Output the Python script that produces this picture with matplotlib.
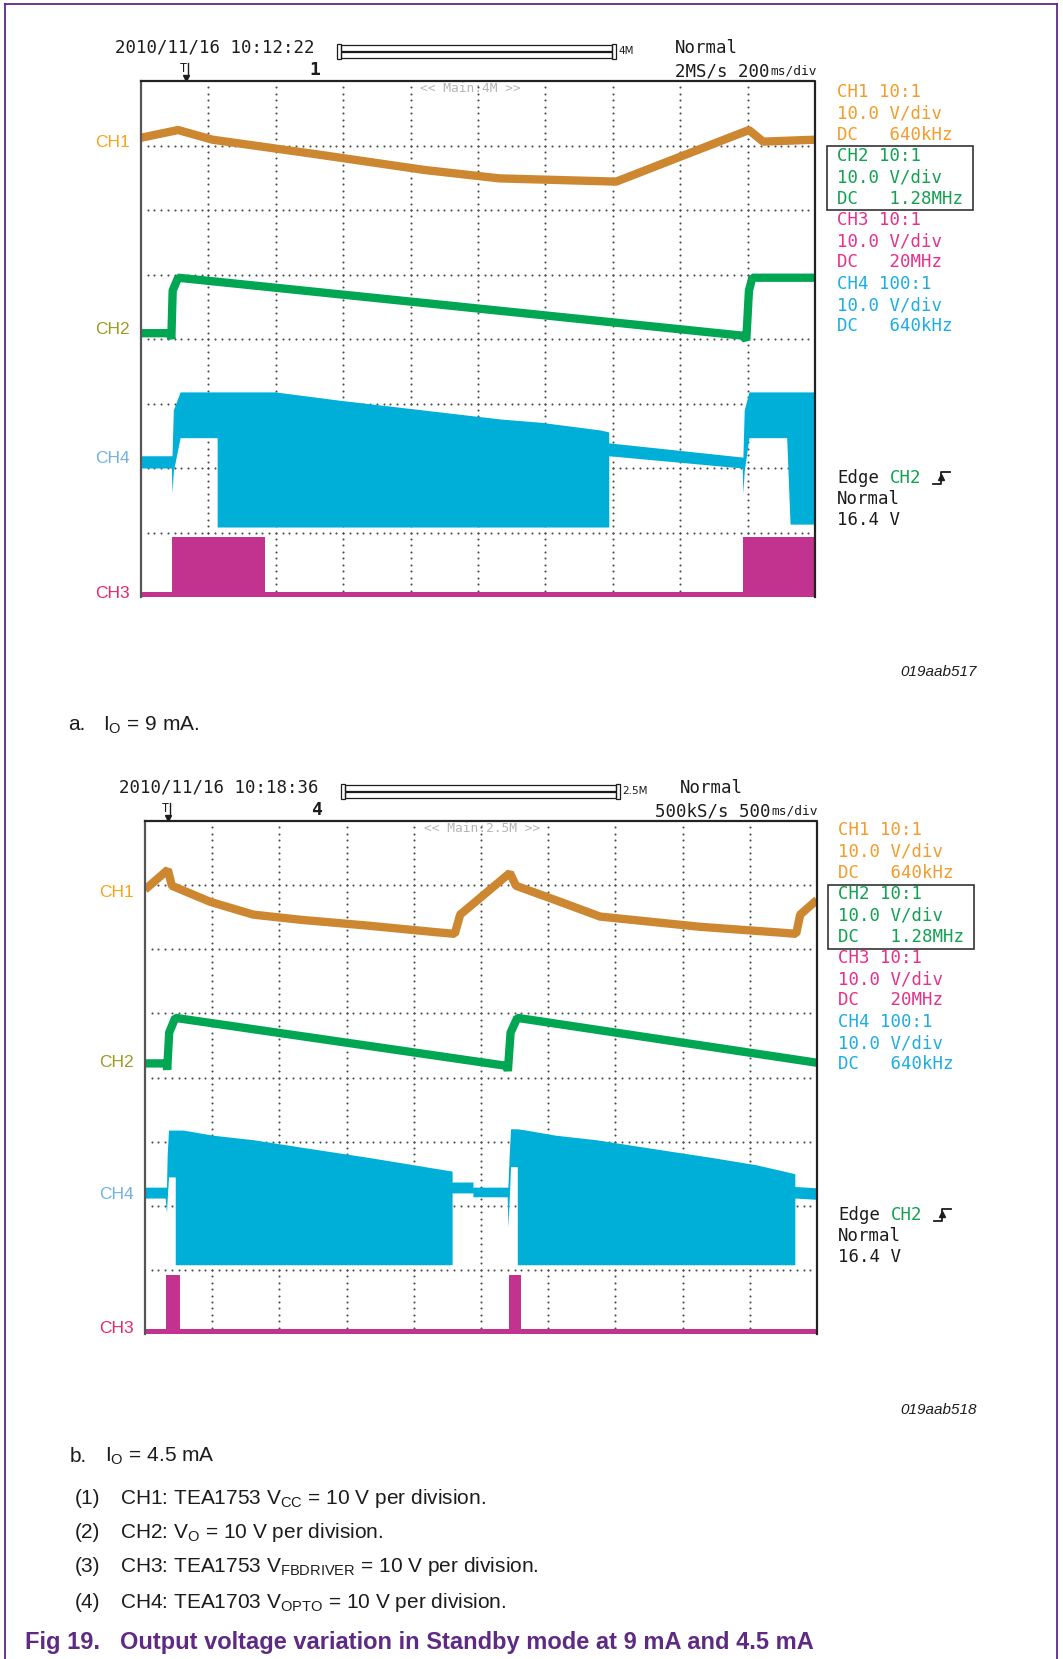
import matplotlib
matplotlib.use("Agg")
import matplotlib.pyplot as plt
import numpy as np
from matplotlib.patches import Rectangle

plt.rcParams['mathtext.fontset'] = 'custom'
plt.rcParams['mathtext.rm'] = 'Liberation Sans'
plt.rcParams['mathtext.it'] = 'Liberation Sans:italic'
plt.rcParams['mathtext.bf'] = 'Liberation Sans:bold'

W, H, DPI = 1063, 1659, 100

# ---------------- data (x in divisions 0..10, y in divisions 0..8) ----------------
# Panel a: IO = 9 mA
ch1a_x = [0, 0.55, 1.06, 2.63, 4.21, 5.32, 7.05, 9.02, 9.23, 10]
ch1a_y = [7.12, 7.24, 7.09, 6.86, 6.62, 6.49, 6.44, 7.24, 7.06, 7.09]

ch2a_x = [0, 0.43, 0.45, 0.47, 0.55, 8.94, 8.98, 9.02, 9.07, 10]
ch2a_y = [4.09, 4.09, 4.00, 4.75, 4.95, 4.05, 3.98, 4.75, 4.95, 4.95]

ch4a_x   = [0, 0.45, 0.46, 0.48, 0.58, 1.13, 1.13, 1.99, 2.95, 5.33, 5.92, 6.81, 6.94, 6.94, 8.92, 8.93, 8.95, 9.02, 9.58, 9.63, 10]
ch4a_bot = [2.00, 2.00, 1.61, 1.95, 2.47, 2.47, 1.085, 1.085, 1.085, 1.085, 1.085, 1.085, 1.085, 2.19, 2.00, 1.61, 1.95, 2.47, 2.47, 1.13, 1.13]
ch4a_top = [2.19, 2.19, 2.19, 2.90, 3.18, 3.18, 3.18, 3.18, 3.05, 2.76, 2.71, 2.59, 2.56, 2.39, 2.17, 2.17, 2.90, 3.18, 3.18, 3.18, 3.18]

ch3a_start = [0.46, 8.93]
ch3a_end = [1.84, 10.0]
ch3a_high = 0.93

# Panel b: IO = 4.5 mA
ch1b_x = [0, 0.34, 0.40, 0.97, 1.61, 2.31, 3.30, 4.29, 4.61, 4.69, 5.43, 5.52, 6.10, 6.77, 8.26, 9.45, 9.69, 9.75, 10]
ch1b_y = [6.93, 7.24, 6.99, 6.74, 6.54, 6.46, 6.37, 6.27, 6.24, 6.54, 7.19, 6.99, 6.77, 6.51, 6.35, 6.26, 6.24, 6.54, 6.77]

ch2b_x = [0, 0.32, 0.33, 0.36, 0.45, 5.39, 5.40, 5.44, 5.54, 10]
ch2b_y = [4.22, 4.22, 4.12, 4.70, 4.93, 4.18, 4.10, 4.70, 4.93, 4.23]

ch4b_x   = [0, 0.30, 0.32, 0.33, 0.35, 0.45, 0.45, 0.57, 1.01, 1.61, 2.41, 3.35, 3.99, 4.57, 4.57, 4.88, 4.88, 5.39, 5.40, 5.42, 5.44, 5.54, 5.54, 5.67, 6.11, 6.71, 7.51, 8.45, 9.09, 9.67, 9.67, 10]
ch4b_bot = [2.12, 2.12, 1.89, 2.10, 2.45, 2.45, 1.08, 1.08, 1.08, 1.08, 1.08, 1.08, 1.08, 1.08, 2.20, 2.20, 2.14, 2.14, 1.67, 2.10, 2.61, 2.61, 1.08, 1.08, 1.08, 1.08, 1.08, 1.08, 1.08, 1.08, 2.12, 2.10]
ch4b_top = [2.29, 2.29, 2.29, 2.80, 3.18, 3.18, 3.18, 3.18, 3.10, 3.03, 2.90, 2.75, 2.64, 2.54, 2.37, 2.37, 2.29, 2.29, 2.29, 2.80, 3.20, 3.20, 3.20, 3.18, 3.10, 3.03, 2.90, 2.75, 2.64, 2.50, 2.30, 2.28]

ch3b_start = [0.31, 5.42]
ch3b_end = [0.52, 5.60]
ch3b_high = 0.92

# channel label positions (divisions)
labels_a = [("CH1", 7.04), ("CH2", 4.14), ("CH4", 2.14), ("CH3", 0.05)]
labels_b = [("CH1", 6.88), ("CH2", 4.23), ("CH4", 2.18), ("CH3", 0.08)]

info_lines = ["CH1 10:1", "10.0 V/div", "DC   640kHz",
              "CH2 10:1", "10.0 V/div", "DC   1.28MHz",
              "CH3 10:1", "10.0 V/div", "DC   20MHz",
              "CH4 100:1", "10.0 V/div", "DC   640kHz"]

# ---------------- styling ----------------
C1, C2, C3, C4 = '#CD8731', '#00A651', '#C2338F', '#00AFD8'
LBL = {"CH1": '#F7A41D', "CH2": '#A09A1E', "CH3": '#E8266B', "CH4": '#72B2E2'}
INFO_C = ['#F39C2B'] * 3 + ['#12A150'] * 3 + ['#E5318A'] * 3 + ['#1DADE4'] * 3
MONO = 'DejaVu Sans Mono'
SANS = 'Liberation Sans'
DARK = '#1c1c1c'
PURPLE = '#5E2A84'

fig = plt.figure(figsize=(W / DPI, H / DPI), dpi=DPI)
fig.patch.set_facecolor('white')
ov = fig.add_axes([0, 0, 1, 1])
ov.set_xlim(0, W)
ov.set_ylim(H, 0)
ov.axis('off')


def txt(x, y, s, size, color=DARK, family=MONO, ha='left', va='center', **kw):
    ov.text(x, y, s, fontsize=size, color=color, family=family, ha=ha, va=va, **kw)


# purple frame
ov.plot([5, 1057], [4, 4], color=PURPLE, lw=1.3)
ov.plot([5, 5], [4, H], color=PURPLE, lw=1.3)
ov.plot([1057, 1057], [4, H], color=PURPLE, lw=1.3)


def header(bx0, by0, date, num, trig_x, num_x, bar_label, rate, main_label, normal_x, rate_x):
    txt(115 + (bx0 - 141), by0 - 33, date, 12.5)
    bl = 337 + (bx0 - 141)
    br = 612 + (bx0 - 141)
    yb = by0 - 37
    ov.add_patch(Rectangle((bl, yb), 4, 15, fill=False, ec=DARK, lw=0.9))
    ov.add_patch(Rectangle((bl + 4, yb + 1), br - bl - 4, 6, fill=False, ec=DARK, lw=0.9))
    ov.add_patch(Rectangle((bl + 4, yb + 8), br - bl - 4, 6, fill=False, ec=DARK, lw=0.9))
    ov.add_patch(Rectangle((br, yb), 4, 15, fill=False, ec=DARK, lw=0.9))
    txt(br + 6, yb + 7.5, bar_label, 7.5, family='DejaVu Sans')
    txt(num_x, by0 - 11, num, 13, weight='bold', ha='center')
    txt(trig_x - 3, by0 - 12, 'T', 8.5, ha='center')
    ov.plot([trig_x + 2, trig_x + 2], [by0 - 18, by0 - 5], color=DARK, lw=1.0)
    ov.plot([trig_x], [by0 - 3], marker='v', ms=5, color=DARK)
    txt(normal_x, by0 - 33, 'Normal', 12.5)
    txt(rate_x, by0 - 10, rate, 12.5)
    txt(rate_x + 95 + (len(rate) - 9) * 10.45, by0 - 10, 'ms/div', 9.3)
    txt(bx0 + 279, by0 + 8, main_label, 9.3, color='#b5b5b5')


def info(x, y_first, box_y0, trig_y):
    for i, (s, c) in enumerate(zip(info_lines, INFO_C)):
        txt(x, y_first + i * 21.3, s, 12.5, color=c)
    ov.add_patch(Rectangle((x - 10, box_y0), 146, 64, fill=False, ec='#333', lw=1.2))
    txt(x, trig_y, 'Edge', 12.5)
    txt(x + 53, trig_y, 'CH2', 12.5, color='#12A150')
    sx = x + 96
    ov.plot([sx, sx + 8, sx + 8, sx + 17], [trig_y + 6, trig_y + 6, trig_y - 6, trig_y - 6], color=DARK, lw=1.3)
    ov.plot([sx + 8], [trig_y - 1], marker='^', ms=4.5, color=DARK)
    txt(x, trig_y + 21, 'Normal', 12.5)
    txt(x, trig_y + 42, '16.4 V', 12.5)


def scope(box, c1x, c1y, c2x, c2y, c4x, c4b, c4t, c3s, c3e, c3h, labels, lbl_x):
    x0, y0, x1, y1 = box
    ax = fig.add_axes([x0 / W, 1 - y1 / H, (x1 - x0) / W, (y1 - y0) / H])
    ax.set_xlim(0, 10)
    ax.set_ylim(0, 8)
    ax.axis('off')
    t = np.arange(0.1, 10.0, 0.1)
    for gy in range(1, 8):
        ax.scatter(t, np.full_like(t, gy), s=2.2, c='#4a4a4a', lw=0, zorder=1)
    tv = np.arange(0.1, 8.0, 0.1)
    for gx in range(1, 10):
        ax.scatter(np.full_like(tv, gx), tv, s=2.2, c='#4a4a4a', lw=0, zorder=1)
    ax.plot([0, 0], [0, 8], color='#555', lw=1.6, zorder=6, clip_on=False)
    ax.plot([0, 10, 10], [8, 8, 0], color='#222', lw=1.6, zorder=6, clip_on=False)
    ax.fill_between(c4x, c4b, c4t, color=C4, lw=0, zorder=3)
    ax.plot(c2x, c2y, color=C2, lw=6, solid_joinstyle='bevel', solid_capstyle='butt', zorder=4)
    ax.plot(c1x, c1y, color=C1, lw=6, solid_joinstyle='bevel', solid_capstyle='butt', zorder=4)
    ax.fill_between([0, 10], [0, 0], [0.08, 0.08], color=C3, lw=0, zorder=5, clip_on=False)
    for s, e in zip(c3s, c3e):
        ax.fill_between([s, e], [0, 0], [c3h, c3h], color=C3, lw=0, zorder=5)
    for name, yd in labels:
        ypx = y1 - yd * (y1 - y0) / 8.0
        txt(lbl_x, ypx, name, 12.5, color=LBL[name], family=SANS, ha='right')


# ---------- panel a ----------
header(141, 81, '2010/11/16 10:12:22', '1', 186, 315, '4M', '2MS/s 200', '<< Main:4M >>', 675, 675)
info(837, 92, 146, 478)
scope((141, 81, 815, 597), ch1a_x, ch1a_y, ch2a_x, ch2a_y, ch4a_x, ch4a_bot, ch4a_top,
      ch3a_start, ch3a_end, ch3a_high, labels_a, 130)
txt(977, 672, '019aab517', 11, family=SANS, ha='right', style='italic')
txt(68, 725, 'a.', 15, family=SANS)
txt(103, 725, r'I$_\mathregular{O}$ = 9 mA.', 15, family=SANS)

# ---------- panel b ----------
header(145, 821, '2010/11/16 10:18:36', '4', 168, 317, '2.5M', '500kS/s 500', '<< Main:2.5M >>', 680, 655)
info(838, 830, 885, 1215)
scope((145, 821, 817, 1334), ch1b_x, ch1b_y, ch2b_x, ch2b_y, ch4b_x, ch4b_bot, ch4b_top,
      ch3b_start, ch3b_end, ch3b_high, labels_b, 134)
txt(977, 1410, '019aab518', 11, family=SANS, ha='right', style='italic')
txt(70, 1456, 'b.', 15, family=SANS)
txt(105, 1456, r'I$_\mathregular{O}$ = 4.5 mA', 15, family=SANS)

# ---------- notes ----------
notes = [r'CH1: TEA1753 V$_\mathregular{CC}$ = 10 V per division.',
         r'CH2: V$_\mathregular{O}$ = 10 V per division.',
         r'CH3: TEA1753 V$_\mathregular{FBDRIVER}$ = 10 V per division.',
         r'CH4: TEA1703 V$_\mathregular{OPTO}$ = 10 V per division.']
note_y = [1498, 1532, 1567, 1602]
for i, (s, y) in enumerate(zip(notes, note_y)):
    txt(75, y, '(%d)' % (i + 1), 15, family=SANS)
    txt(120, y, s, 15, family=SANS)

txt(25, 1643, 'Fig 19.', 17, color=PURPLE, family=SANS, weight='bold')
txt(120, 1643, 'Output voltage variation in Standby mode at 9 mA and 4.5 mA', 17,
    color=PURPLE, family=SANS, weight='bold')

fig.savefig('out.png', dpi=DPI, facecolor='white')
